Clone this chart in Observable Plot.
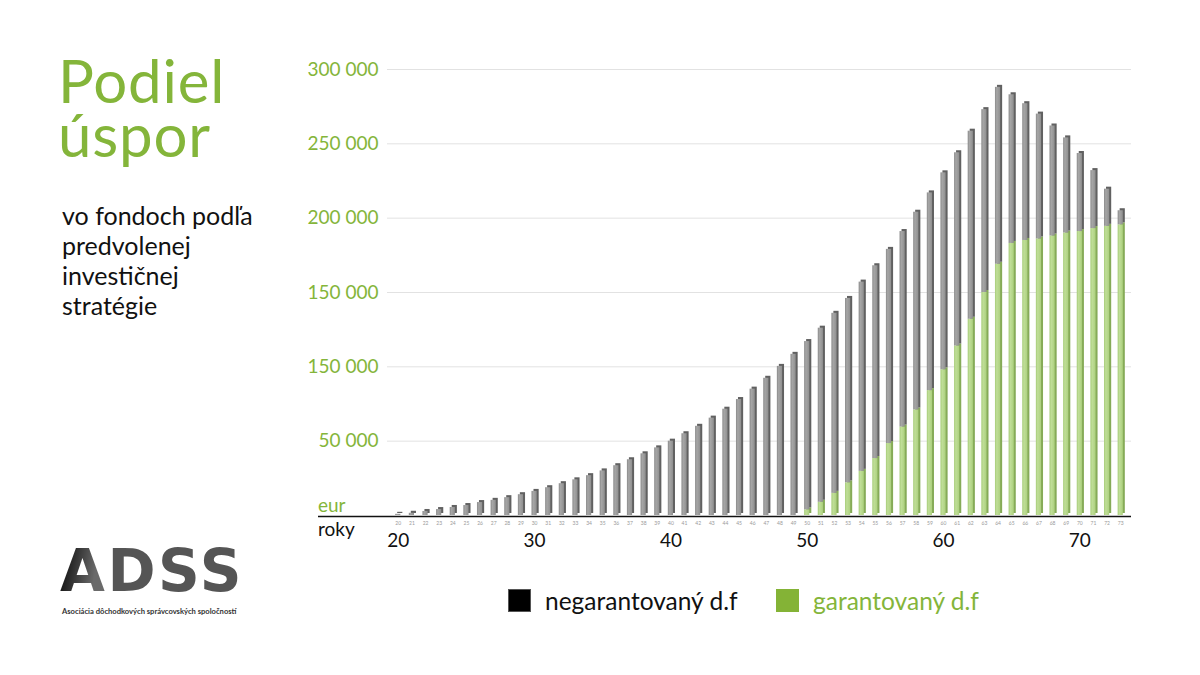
<!DOCTYPE html>
<html lang="sk">
<head>
<meta charset="utf-8">
<script src="https://cdn.jsdelivr.net/npm/d3@7"></script>
<script src="https://cdn.jsdelivr.net/npm/@observablehq/plot@0.6"></script>
<style>
  html, body { margin: 0; padding: 0; background: #fff; }
  #page { position: relative; width: 1200px; height: 675px; overflow: hidden; font-family: "Lato", sans-serif; }
  #chart { position: absolute; left: 0; top: 0; }
  .title { position: absolute; left: 58px; color: #84b53a; font-size: 60px; line-height: 54px; height: 54px; font-weight: 400; letter-spacing: 0.8px; white-space: nowrap; }
  .subtitle { position: absolute; left: 62px; top: 200px; color: #111; font-size: 25px; line-height: 30px; }
  .unit { position: absolute; left: 318px; font-size: 19px; line-height: 19px; }
  .legend { position: absolute; top: 586px; display: flex; align-items: center; font-size: 24.5px; }
  .legend span.sw { display: inline-block; width: 23px; height: 23px; margin-right: 14px; box-sizing: border-box; }
  .logo { position: absolute; left: 60px; top: 542px; }
  .logo .mark { font-family: "DejaVu Sans", sans-serif; font-weight: 700; font-size: 58px; line-height: 58px; color: #555; letter-spacing: 2.5px; }
  .logo .mark b { font-weight: 700; background: linear-gradient(100deg, #1e1e1e 20%, #6a6a6a 70%); -webkit-background-clip: text; background-clip: text; color: transparent; }
  .logo .cap { font-family: "Lato", sans-serif; font-weight: 700; font-size: 7.6px; color: #333; margin-top: 6px; margin-left: 2px; }
</style>
</head>
<body>
<div id="page">
  <div id="chart"></div>
  <div class="title" style="top:53px">Podiel</div>
  <div class="title" style="top:107px">úspor</div>
  <div class="subtitle">vo fondoch podľa<br>predvolenej<br>investičnej<br>stratégie</div>
  <div class="unit" style="top:495px;color:#84b53a">eur</div>
  <div class="unit" style="top:519px;color:#111">roky</div>
  <div class="legend" style="left:508px;color:#111"><span class="sw" style="background:#000;border:1px solid #555"></span>negarantovaný d.f</div>
  <div class="legend" style="left:776px;color:#84b53a"><span class="sw" style="background:#84b336"></span>garantovaný d.f</div>
  <div class="logo">
    <div class="mark"><b>A</b>DSS</div>
    <div class="cap">Asociácia dôchodkových správcovských spoločností</div>
  </div>
</div>
<script>
// Ages of the saver (years)
const ages = [20,21,22,23,24,25,26,27,28,29,30,31,32,33,34,35,36,37,38,39,40,41,42,43,44,45,46,
  47,48,49,50,51,52,53,54,55,56,57,58,59,60,61,62,63,64,65,66,67,68,69,70,71,72,73];

// Savings in the guaranteed bond fund (eur)
const garantovany = [0,0,0,0,0,0,0,0,0,0,0,0,0,0,0,0,0,0,0,0,0,0,0,0,0,0,0,0,0,0,
  3800,8900,14900,22000,29700,38300,48400,59500,71000,84000,98000,114000,132000,150000,169000,
  183000,185000,186000,188000,190000,191000,193000,194500,195500];

// Savings in the non-guaranteed equity index fund (eur)
const negarantovany = [800,1500,2700,4000,5400,6700,8700,10200,12000,14000,16200,18700,21400,24000,
  26800,30000,33500,37500,41500,45500,50000,55000,60000,65500,71500,78000,85000,92300,100300,108400,
  113200,117100,121100,124000,127300,129700,130600,131500,133000,133000,132500,130000,126500,123000,119000,
  100000,92000,84000,74000,64000,52500,39000,25000,9500];

// Value axis ticks and their printed labels
const yTicks = [50000, 100000, 150000, 200000, 250000, 300000];
const yTickLabels = ["50 000", "150 000", "150 000", "200 000", "250 000", "300 000"];
const xMajorTicks = [20, 30, 40, 50, 60, 70];

const G = "garantovaný d.f", N = "negarantovaný d.f";
const green = "#84b53a";

// long table: guaranteed rows first so they sit at the bottom of each stack
const rows = [
  ...ages.map((a, i) => ({age: a, series: G, value: garantovany[i]})),
  ...ages.map((a, i) => ({age: a, series: N, value: negarantovany[i]}))
];

const sideFill = d => d.series === G ? "#86ab58" : "#616161";
const faceFill = d => d.series === G ? "url(#faceGreen)" : "url(#faceGray)";

const chart = Plot.plot({
  width: 1200,
  height: 560,
  marginLeft: 387,
  marginRight: 69,
  marginTop: 69,
  marginBottom: 45,
  style: {fontFamily: "Lato, sans-serif", background: "transparent", overflow: "visible"},
  x: {type: "band", domain: ages, paddingInner: 0.62, paddingOuter: 0.6, label: null},
  y: {domain: [0, 300000], label: null},
  color: {type: "identity"},
  marks: [
    Plot.gridY({ticks: yTicks, stroke: "#e2e2e2", strokeOpacity: 1, strokeWidth: 1}),
    // extruded side/top faces
    Plot.barY(rows, Plot.stackY({x: "age", y: "value", z: "series", fill: sideFill, dx: 2, dy: -2})),
    // front faces
    Plot.barY(rows, Plot.stackY({x: "age", y: "value", z: "series", fill: faceFill})),
    Plot.ruleY([0], {stroke: "#111", strokeWidth: 1.6, insetLeft: -69, dy: 1}),
    Plot.axisY({ticks: yTicks, tickSize: 0, tickPadding: 9, fontSize: 19, fill: green,
      tickFormat: d => yTickLabels[yTicks.indexOf(d)]}),
    Plot.axisX({tickSize: 0, tickPadding: 6, fontSize: 5, fill: "#9a9a9a"}),
    Plot.axisX({ticks: xMajorTicks, tickSize: 0, tickPadding: 18, fontSize: 19, fill: "#111"})
  ]
});

// gradients that shade the bar fronts like cylinders
const defs = d3.select(chart).insert("defs", ":first-child");
const grad = (id, stops) => {
  const g = defs.append("linearGradient").attr("id", id).attr("x1", 0).attr("x2", 1).attr("y1", 0).attr("y2", 0);
  stops.forEach(([o, c]) => g.append("stop").attr("offset", o).attr("stop-color", c));
};
grad("faceGray", [[0, "#8a8a8a"], [0.35, "#a6a6a6"], [1, "#8f8f8f"]]);
grad("faceGreen", [[0, "#a6cc78"], [0.35, "#c0de98"], [1, "#acd07e"]]);

document.getElementById("chart").appendChild(chart);
</script>
</body>
</html>
